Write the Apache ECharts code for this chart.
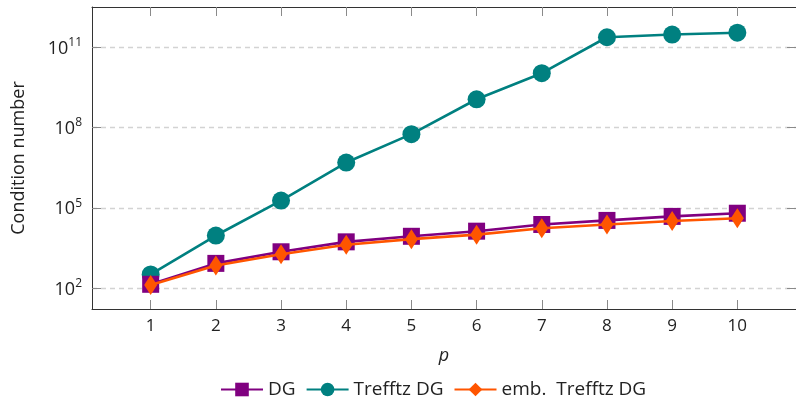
<!DOCTYPE html>
<html>
<head>
<meta charset="utf-8">
<script src="https://cdn.jsdelivr.net/npm/echarts@6/dist/echarts.min.js"></script>
<style>
html,body{margin:0;padding:0;background:#fff;}
#chart{width:796px;height:397px;}
</style>
</head>
<body>
<div id="chart"></div>
<script>
// ---- data ----
const p = [1, 2, 3, 4, 5, 6, 7, 8, 9, 10];
const dg = [141, 850, 2300, 5400, 8700, 13500, 24000, 34000, 48000, 63000];
const trefftz = [330, 9300, 1.86e5, 4.9e6, 5.6e7, 1.12e9, 1.05e10, 2.3e11, 2.9e11, 3.4e11];
const embTrefftz = [132, 710, 1860, 4200, 6800, 10000, 17400, 24000, 32500, 41000];
const xTicks = [1, 2, 3, 4, 5, 6, 7, 8, 9, 10];
const yTicks = [1e2, 1e5, 1e8, 1e11];

const FONT = 'Open Sans';
const TXT = '#222';
const xMin = 0.1, xMax = 10.9;
const yMin = Math.pow(10, 1.228), yMax = Math.pow(10, 12.49);

const pairs = (ys) => p.map((x, i) => [x, ys[i]]);

const chart = echarts.init(document.getElementById('chart'), null, {renderer: 'canvas'});
const tickStyle = {show: true, inside: true, length: 9, lineStyle: {color: '#8a8a8a', width: 1}};
chart.setOption({
  animation: false,
  backgroundColor: '#fff',
  textStyle: {fontFamily: FONT, color: TXT},
  grid: {left: 92, right: -5, top: 7, bottom: 88, containLabel: false},
  legend: {
    data: ['DG', 'Trefftz DG', 'emb.  Trefftz DG'],
    left: 220, top: 380, padding: 0, itemWidth: 42, itemHeight: 17, itemGap: 10,
    textStyle: {fontFamily: FONT, fontSize: 19, color: TXT}
  },
  xAxis: [{
    type: 'value', min: xMin, max: xMax, position: 'bottom',
    name: 'p', nameLocation: 'middle', nameGap: 38,
    nameTextStyle: {fontFamily: FONT, fontSize: 18, fontStyle: 'italic', color: TXT},
    axisLine: {show: true, onZero: false, lineStyle: {color: '#333', width: 1}},
    axisTick: Object.assign({customValues: xTicks}, tickStyle),
    axisLabel: {customValues: xTicks, fontFamily: FONT, fontSize: 17, color: TXT, margin: 9},
    splitLine: {show: false}
  }, {
    type: 'value', min: xMin, max: xMax, position: 'top',
    axisLine: {show: true, onZero: false, lineStyle: {color: '#333', width: 1}},
    axisTick: Object.assign({customValues: xTicks}, tickStyle),
    axisLabel: {show: false},
    splitLine: {show: false}
  }],
  yAxis: [{
    type: 'log', logBase: 10, min: yMin, max: yMax, position: 'left',
    name: 'Condition number', nameLocation: 'middle', nameGap: 64, nameRotate: 90,
    nameTextStyle: {fontFamily: FONT, fontSize: 18, color: TXT},
    axisLine: {show: true, onZero: false, lineStyle: {color: '#333', width: 1}},
    axisTick: Object.assign({customValues: yTicks}, tickStyle),
    axisLabel: {
      customValues: yTicks, margin: 10,
      formatter: (v) => '{b|10}{s|' + Math.round(Math.log10(v)) + '}',
      rich: {
        b: {fontFamily: FONT, fontSize: 18, color: TXT, verticalAlign: 'bottom'},
        s: {fontFamily: FONT, fontSize: 12, color: TXT, verticalAlign: 'top', padding: [0, 0, 9, 0]}
      }
    },
    splitLine: {show: true, lineStyle: {color: '#d3d3d3', width: 1.3, type: [5, 4]}}
  }, {
    type: 'log', logBase: 10, min: yMin, max: yMax, position: 'right',
    axisLine: {show: true, onZero: false, lineStyle: {color: '#333', width: 1}},
    axisTick: Object.assign({customValues: yTicks}, tickStyle),
    axisLabel: {show: false},
    splitLine: {show: false}
  }],
  series: [{
    name: 'Trefftz DG', type: 'line', data: pairs(trefftz), z: 2,
    symbol: 'circle', symbolSize: 18,
    itemStyle: {color: '#008080'}, lineStyle: {color: '#008080', width: 2.6}
  }, {
    name: 'DG', type: 'line', data: pairs(dg), z: 3,
    symbol: 'rect', symbolSize: 17,
    itemStyle: {color: '#800080'}, lineStyle: {color: '#800080', width: 2.6}
  }, {
    name: 'emb.  Trefftz DG', type: 'line', data: pairs(embTrefftz), z: 4,
    symbol: 'diamond', symbolSize: [13, 20],
    itemStyle: {color: '#ff5500'}, lineStyle: {color: '#ff5500', width: 2.6}
  }]
});
</script>
</body>
</html>
